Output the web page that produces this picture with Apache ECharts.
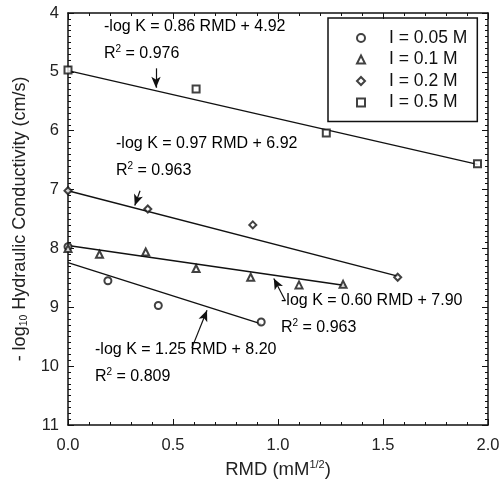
<!DOCTYPE html>
<html>
<head>
<meta charset="utf-8">
<script src="https://cdn.jsdelivr.net/npm/echarts@6/dist/echarts.min.js"></script>
<style>
  html, body { margin: 0; padding: 0; background: #fff; }
  #chart { width: 504px; height: 487px; }
</style>
</head>
<body>
<div id="chart"></div>
<script>
const seriesNames = ['I = 0.05 M', 'I = 0.1 M', 'I = 0.2 M', 'I = 0.5 M'];
const seriesSymbols = ['emptyCircle', 'emptyTriangle', 'emptyDiamond', 'emptyRect'];
const pointsI005 = [[0, 7.97], [0.19, 8.55], [0.43, 8.97], [0.92, 9.25]];
const pointsI01 = [[0, 8.0], [0.15, 8.1], [0.37, 8.06], [0.61, 8.34], [0.87, 8.49], [1.1, 8.62], [1.31, 8.61]];
const pointsI02 = [[0, 7.02], [0.38, 7.33], [0.88, 7.6], [1.57, 8.49]];
const pointsI05 = [[0, 4.97], [0.61, 5.29], [1.23, 6.04], [1.95, 6.56]];

// regression lines as drawn (end points)
const fitI005 = [[0, 8.24], [0.92, 9.28]];
const fitI01 = [[0, 7.95], [1.32, 8.63]];
const fitI02 = [[0, 7.02], [1.57, 8.47]];
const fitI05 = [[0, 4.98], [1.95, 6.57]];

// arrows: [tail, head] in data units
const arrows = [
  [[0.419, 4.94], [0.419, 5.27]],
  [[0.343, 7.02], [0.318, 7.27]],
  [[1.035, 8.89], [0.98, 8.51]],
  [[0.59, 9.69], [0.662, 9.05]]
];

// annotation texts
const eqTexts = [
  ['-log K = 0.86 RMD + 4.92', '0.976'],
  ['-log K = 0.97 RMD + 6.92', '0.963'],
  ['-log K = 0.60 RMD + 7.90', '0.963'],
  ['-log K = 1.25 RMD + 8.20', '0.809']
];
const eqPos = [[104, 19], [116, 136], [281, 293], [95, 342]];

const xTicks = { min: 0, max: 2.0, interval: 0.5 };
const yTicks = { min: 4, max: 11, interval: 1 };

const FONT = '"Liberation Sans", Arial, sans-serif';
const chart = echarts.init(document.getElementById('chart'), null, { renderer: 'canvas' });

const boxAxis = (extra) => Object.assign({
  axisLine: { show: true, onZero: false, lineStyle: { color: '#111', width: 1.5 } },
  axisTick: { show: true, inside: true, length: 6, lineStyle: { color: '#111', width: 1 } },
  splitLine: { show: false },
  axisLabel: { show: false }
}, extra);

const allPoints = [pointsI005, pointsI01, pointsI02, pointsI05];
const allFits = [fitI005, fitI01, fitI02, fitI05];

const series = [];
allFits.forEach((fit) => {
  series.push({
    type: 'line',
    data: fit,
    showSymbol: false,
    symbol: 'none',
    silent: true,
    lineStyle: { color: '#111', width: 1.3 },
    z: 2
  });
});
allPoints.forEach((pts, i) => {
  series.push({
    name: seriesNames[i],
    type: 'scatter',
    data: pts,
    symbol: seriesSymbols[i],
    symbolSize: 7,
    itemStyle: { color: '#111', borderColor: '#111', borderWidth: 1 },
    z: 3
  });
});
series.push({
  type: 'line',
  data: [],
  silent: true,
  markLine: {
    silent: true,
    symbol: ['none', 'arrow'],
    symbolSize: [7, 11],
    label: { show: false },
    lineStyle: { color: '#111', width: 1.2, type: 'solid' },
    data: arrows.map(a => [{ coord: a[0] }, { coord: a[1] }])
  }
});

const rich = {
  a: { fontFamily: FONT, fontSize: 16, color: '#111', lineHeight: 27 },
  sup: { fontFamily: FONT, fontSize: 10, color: '#111', lineHeight: 27, padding: [0, 0, 10, 0] }
};

const minorX = { show: true, splitNumber: 5, length: 3, lineStyle: { color: '#111' } };
const minorY = { show: true, splitNumber: 10, length: 3, lineStyle: { color: '#111' } };

const option = {
  animation: false,
  backgroundColor: '#fff',
  grid: { left: 68, right: 16, top: 13, bottom: 62 },
  legend: {
    data: seriesNames,
    orient: 'vertical',
    left: 328,
    top: 18,
    borderColor: '#111',
    borderWidth: 1.5,
    borderRadius: 0,
    padding: [11, 10, 10, 28],
    itemGap: 3.5,
    itemWidth: 8,
    itemHeight: 8,
    textStyle: { fontFamily: FONT, fontSize: 17.5, color: '#111', padding: [0, 0, 0, 19], lineHeight: 15 }
  },
  xAxis: [
    boxAxis({
      type: 'value', position: 'bottom', min: xTicks.min, max: xTicks.max, interval: xTicks.interval,
      minorTick: minorX,
      axisLabel: { show: true, margin: 12, fontFamily: FONT, fontSize: 16.5, color: '#222', formatter: v => v.toFixed(1) },
      name: '{a|RMD (mM}{sup|1/2}{a|)}',
      nameLocation: 'middle',
      nameGap: 35,
      nameTextStyle: {
        rich: {
          a: { fontFamily: FONT, fontSize: 18.5, color: '#222', lineHeight: 20 },
          sup: { fontFamily: FONT, fontSize: 11, color: '#222', lineHeight: 20, padding: [0, 0, 10, 0] }
        }
      }
    }),
    boxAxis({
      type: 'value', position: 'top', min: xTicks.min, max: xTicks.max, interval: xTicks.interval,
      minorTick: minorX
    })
  ],
  yAxis: [
    boxAxis({
      type: 'value', position: 'left', inverse: true, min: yTicks.min, max: yTicks.max, interval: yTicks.interval,
      minorTick: minorY,
      axisLabel: { show: true, margin: 9, fontFamily: FONT, fontSize: 16.5, color: '#222' },
      name: '{a|- log}{sub|10}{a| Hydraulic Conductivity (cm/s)}',
      nameLocation: 'middle',
      nameRotate: 90,
      nameGap: 35,
      nameTextStyle: {
        rich: {
          a: { fontFamily: FONT, fontSize: 18, color: '#222', lineHeight: 20 },
          sub: { fontFamily: FONT, fontSize: 10.5, color: '#222', lineHeight: 20, padding: [9, 0, 0, 0] }
        }
      }
    }),
    boxAxis({
      type: 'value', position: 'right', inverse: true, min: yTicks.min, max: yTicks.max, interval: yTicks.interval,
      minorTick: minorY
    })
  ],
  graphic: eqTexts.map((t, i) => ({
    type: 'text',
    left: eqPos[i][0],
    top: eqPos[i][1],
    silent: true,
    style: {
      text: '{a|' + t[0] + '}\n{a|R}{sup|2}{a| = ' + t[1] + '}',
      rich: rich
    }
  })),
  series: series
};

chart.setOption(option);
</script>
</body>
</html>
